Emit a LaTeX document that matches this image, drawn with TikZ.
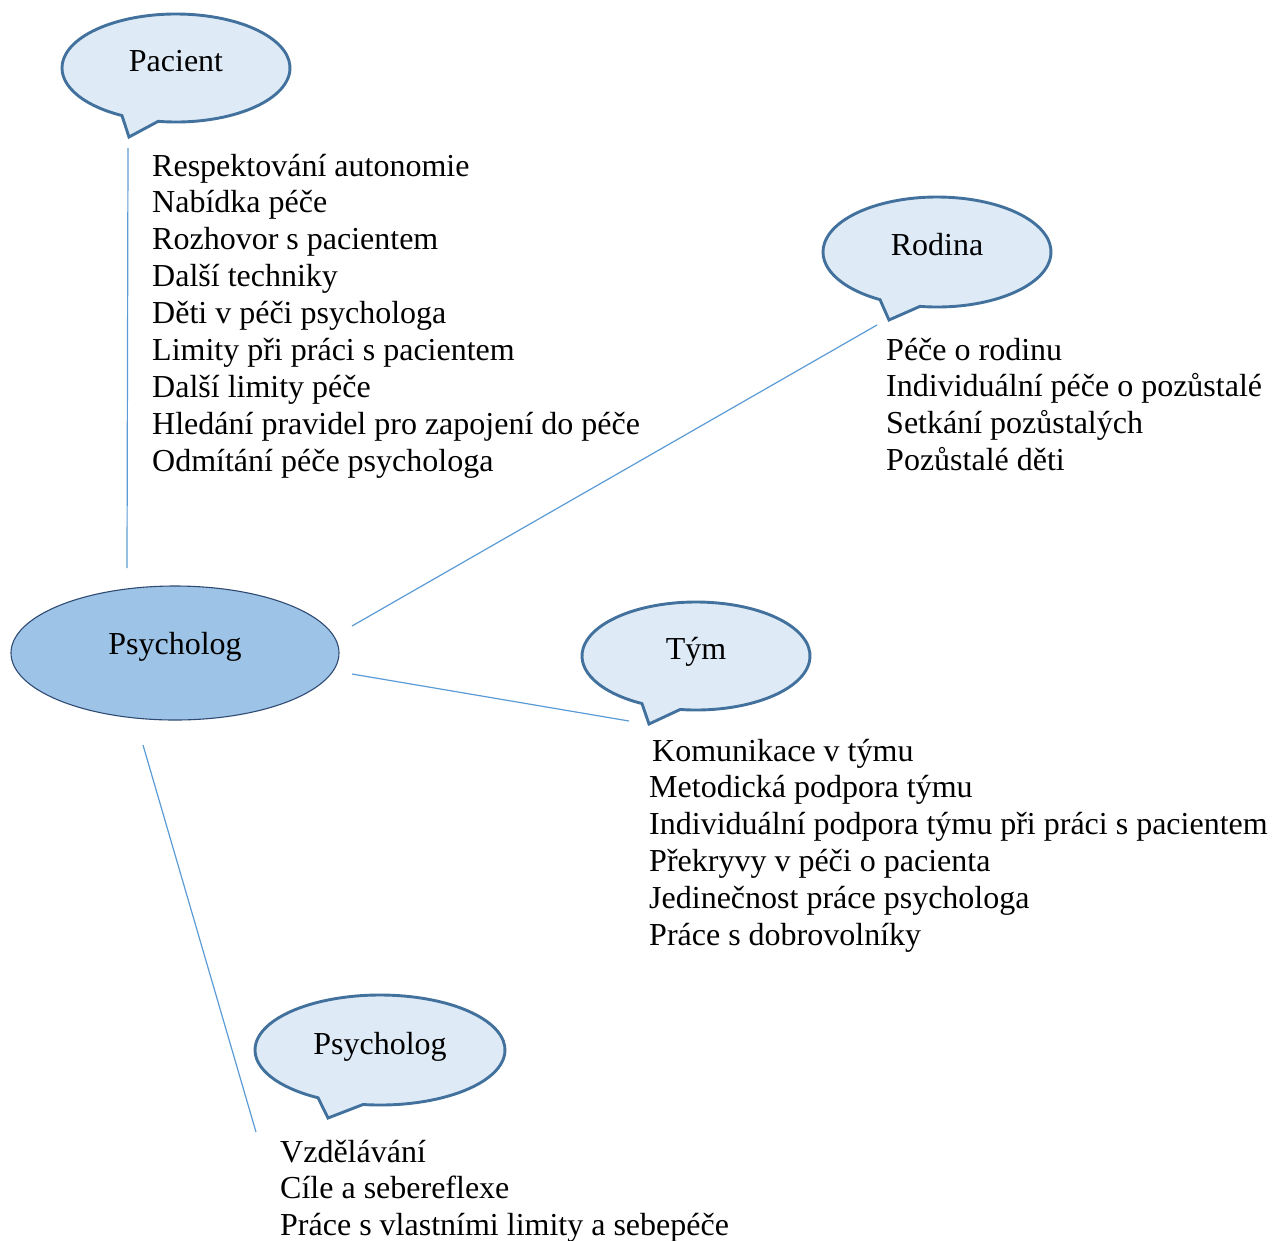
\documentclass[tikz,border=0pt]{standalone}
\usepackage{fontspec}
\setmainfont{Liberation Serif}
\definecolor{calfill}{HTML}{DEEBF7}
\definecolor{caldraw}{HTML}{41719C}
\definecolor{mainfill}{HTML}{9DC3E6}
\definecolor{maindraw}{HTML}{2F4B73}
\definecolor{linkc}{HTML}{5B9BD5}
\newcommand{\mycallout}[9]{%
  % #1 cx, #2 cy, #3 rx, #4 ry, #5 a1 (right tail pt), #6 a2 (left tail pt), #7 tip x, #8 tip y, #9 tip name
  \coordinate (#9) at (#7,#8);
  \draw[calloutstyle] ([shift={(#1,#2)}]#6:#3 and #4) -- (#9) -- ([shift={(#1,#2)}]#5:#3 and #4)
    arc[start angle=#5, end angle={#6-360}, x radius=#3, y radius=#4] -- cycle;
}
\begin{document}
\begin{tikzpicture}[x=1pt,y=-1pt,
  calloutstyle/.style={fill=calfill, draw=caldraw, line width=2.9pt, line join=miter},
  lbl/.style={anchor=base, inner sep=0pt, font=\fontsize{32}{37}\selectfont},
  item/.style={anchor=base west, inner sep=0pt, font=\fontsize{32}{37}\selectfont},
  link/.style={draw=linkc, line width=1.2pt}]
\useasboundingbox (0,0) rectangle (1284,1240);

% callouts
\mycallout{176}{68}{114}{54}{99}{118.3}{129}{137}{pactip}
\mycallout{937}{252}{114}{55}{98.6}{120}{889}{320}{rodtip}
\mycallout{696}{656}{114}{54}{98}{118.3}{649}{724}{tymtip}
\mycallout{380}{1050}{125}{55}{97.8}{119.7}{328}{1118}{psytip}

\node[lbl] (pac) at (176,71) {Pacient};
\node[lbl] (rod) at (937,255) {Rodina};
\node[lbl] (tym) at (696,659) {Tým};
\node[lbl] (psy2) at (380,1054) {Psycholog};

% main ellipse
\draw[fill=mainfill, draw=maindraw, line width=1.1pt] (175,653) ellipse [x radius=164, y radius=67];
\node[lbl] (psy) at (175,654) {Psycholog};

% connector end points
\coordinate (a1) at (128,148);
\coordinate (a2) at (127,568);
\coordinate (b1) at (352,626);
\coordinate (b2) at (877,325);
\coordinate (c1) at (352,674);
\coordinate (c2) at (629,721);
\coordinate (d1) at (143,745);
\coordinate (d2) at (256,1132);
\draw[link] (a1) -- (a2);
\draw[link] (b1) -- (b2);
\draw[link] (c1) -- (c2);
\draw[link] (d1) -- (d2);

% lists
\foreach \t [count=\i] in {Respektování autonomie, Nabídka péče, Rozhovor s pacientem, Další techniky, Děti v péči psychologa, Limity při práci s pacientem, Další limity péče, Hledání pravidel pro zapojení do péče, Odmítání péče psychologa}
  \node[item] (pl\i) at (152,{176+36.9*(\i-1)}) {\t};
\foreach \t [count=\i] in {Péče o rodinu, Individuální péče o pozůstalé, Setkání pozůstalých, Pozůstalé děti}
  \node[item] (rl\i) at (886,{360+36.9*(\i-1)}) {\t};
\node[item] (tl1) at (652,761) {Komunikace v týmu};
\foreach \t [count=\i from 2] in {Metodická podpora týmu, Individuální podpora týmu při práci s pacientem, Překryvy v péči o pacienta, Jedinečnost práce psychologa, Práce s dobrovolníky}
  \node[item] (tl\i) at (649,{761+36.9*(\i-1)}) {\t};
\foreach \t [count=\i] in {Vzdělávání, Cíle a sebereflexe, Práce s vlastními limity a sebepéče}
  \node[item] (sl\i) at (280,{1162+36.9*(\i-1)}) {\t};
\end{tikzpicture}
\end{document}
